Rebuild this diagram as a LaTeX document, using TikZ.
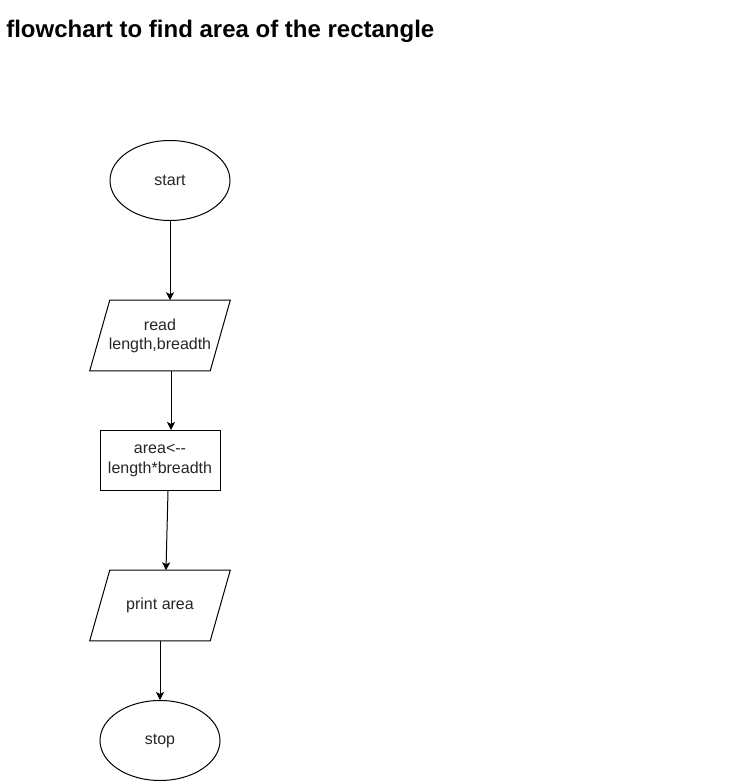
\documentclass[tikz,border=0pt]{standalone}
\usepackage{fontspec}
\setmainfont{Liberation Sans}
\usetikzlibrary{shapes.geometric,arrows.meta}
\tikzset{
  px/.style={x=0.75pt,y=-0.75pt},
  shapeline/.style={draw=black,line width=0.75pt},
  lbl/.style={font=\fontsize{12pt}{14.4pt}\selectfont,align=center,text=black!85},
  oval/.style={shapeline,lbl,ellipse,inner sep=0pt,minimum width=90pt,minimum height=60pt},
  procbox/.style={shapeline,lbl,rectangle,inner sep=0pt,minimum width=90pt,minimum height=45pt},
  iobox/.style={lbl,rectangle,inner sep=0pt,minimum width=105pt,minimum height=52.5pt},
  arr/.style={draw=black,line width=0.75pt,-{Stealth[length=6pt,width=6pt,inset=1.5pt]}},
}
\newcommand{\iodraw}[1]{\draw[shapeline,line join=miter] (#1.south west) -- ([xshift=15pt]#1.north west) -- (#1.north east) -- ([xshift=-15pt]#1.south east) -- cycle;}
\begin{document}
\begin{tikzpicture}[px]
\useasboundingbox (0,0) rectangle (752,781);
\node[anchor=base west,font=\fontsize{18pt}{21.6pt}\selectfont\bfseries,inner sep=0pt] (title) at (6,38) {flowchart to find area of the rectangle};
\node[oval] (start) at (170,180.5) {start};
\node[iobox] (read) at (160,335.5) {read\\length,breadth};
\iodraw{read}
\node[procbox] (area) at (160,460.5) {area{\textless}-{}-\\length*breadth};
\node[iobox] (print) at (160,605.5) {print area};
\iodraw{print}
\node[oval] (stop) at (160,740.5) {stop};
\draw[arr] (start.south) -- (read.north -| start.south);
\draw[arr] ([xshift=8.25pt]read.south) -- ([xshift=8.25pt]area.north);
\draw[arr] ([xshift=6pt]area.south) -- ([xshift=4.5pt]print.north);
\draw[arr] (print.south) -- (stop.north);
\end{tikzpicture}
\end{document}
